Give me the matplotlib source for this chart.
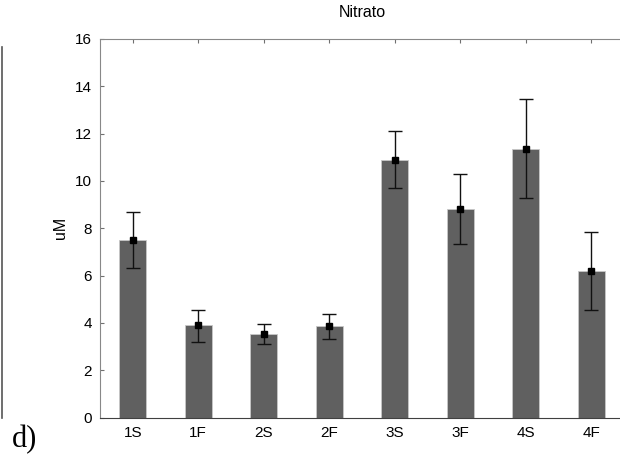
import numpy as np
import matplotlib
matplotlib.use('Agg')
import matplotlib.pyplot as plt
from matplotlib.lines import Line2D

plt.rcParams['font.family'] = ['Liberation Sans', 'DejaVu Sans']

# datos
etiquetas = ['1S', '1F', '2S', '2F', '3S', '3F', '4S', '4F']
media = [7.5, 3.9, 3.54, 3.86, 10.9, 8.82, 11.37, 6.2]
err_sup = [8.68, 4.56, 3.94, 4.37, 12.1, 10.28, 13.47, 7.84]
err_inf = [6.31, 3.19, 3.11, 3.31, 9.69, 7.32, 9.26, 4.53]
yticks = [0, 2, 4, 6, 8, 10, 12, 14, 16]

fig = plt.figure(figsize=(6.2, 4.59), dpi=100)
ax = fig.add_axes([100 / 620, 41.5 / 459, 524 / 620, 378.5 / 459])

x = np.arange(len(etiquetas))
media = np.array(media)
yerr = [media - np.array(err_inf), np.array(err_sup) - media]

ax.bar(x, media, width=0.41, color='#606060', edgecolor='#c8c8c8', linewidth=0.6, zorder=2)
ax.errorbar(x, media, yerr=yerr, fmt='s', color='black', ecolor='#111111',
            markersize=5, capsize=4.7, elinewidth=1, capthick=1, zorder=3)

ax.set_xlim(-0.5, 7.5)
ax.set_ylim(0, 16)
ax.set_xticks(x)
ax.set_xticklabels(etiquetas)
ax.set_yticks(yticks)
ax.tick_params(direction='in', length=3, color='#707070', labelsize=11, pad=6, top=True)
ax.set_title('Nitrato', fontsize=11.5, pad=16)
ax.set_ylabel('uM', fontsize=11.5, labelpad=5)

for s in ['left', 'top']:
    ax.spines[s].set_color('#888888')
ax.spines['bottom'].set_color('#404040')
ax.spines['right'].set_visible(False)

# borde del panel vecino y etiqueta del panel
fig.add_artist(Line2D([1.5 / 620, 1.5 / 620], [1 - 47 / 459, 1 - 418 / 459], color='#555555', lw=1.2))
fig.text(12 / 620, 1 - 440 / 459, 'd)', fontsize=22, family='Liberation Serif', va='center')

plt.savefig('out.png', dpi=100)
